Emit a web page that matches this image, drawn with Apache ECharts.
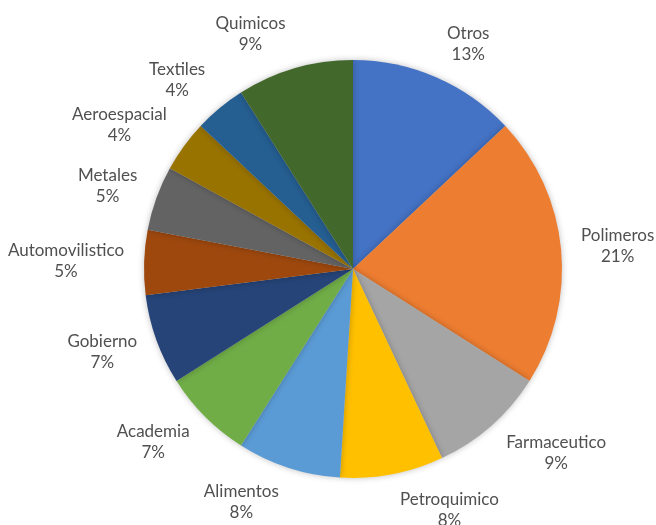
<!DOCTYPE html>
<html>
<head>
<meta charset="utf-8">
<script src="https://cdn.jsdelivr.net/npm/echarts@6/dist/echarts.min.js"></script>
<style>
  html, body { margin: 0; padding: 0; background: #ffffff; }
  #chart { width: 656px; height: 525px; }
</style>
</head>
<body>
<div id="chart"></div>
<script>
// Sectores (en orden horario desde las 12) y su participación en %
const sectores = ['Otros', 'Polimeros', 'Farmaceutico', 'Petroquimico', 'Alimentos', 'Academia',
  'Gobierno', 'Automovilistico', 'Metales', 'Aeroespacial', 'Textiles', 'Quimicos'];
const porcentajes = [13, 21, 9, 8, 8, 7, 7, 5, 5, 4, 4, 9];
const colores = ['#4472C4', '#ED7D31', '#A5A5A5', '#FFC000', '#5B9BD5', '#70AD47',
  '#264478', '#9E480E', '#636363', '#997300', '#255E91', '#43682B'];

const inicio = 90;   // primer sector arranca a las 12
const total = porcentajes.reduce((a, b) => a + b, 0);

// componente vertical (pantalla) de la dirección media de cada sector
const dirY = porcentajes.map((v, i) => {
  const acum = porcentajes.slice(0, i).reduce((a, b) => a + b, 0) + v / 2;
  const ang = (inicio - acum / total * 360) * Math.PI / 180;
  return -Math.sin(ang);
});

const chart = echarts.init(document.getElementById('chart'), null, { renderer: 'canvas' });

chart.setOption({
  animation: false,
  color: colores,
  series: [{
    type: 'pie',
    center: [353, 269],
    radius: 209,
    startAngle: inicio,
    clockwise: true,
    avoidLabelOverlap: false,
    data: sectores.map((s, i) => ({ name: s, value: porcentajes[i] })),
    itemStyle: {
      borderWidth: 0,
      shadowBlur: 6,
      shadowColor: 'rgba(0,0,0,0.25)'
    },
    label: {
      show: true,
      position: 'outside',
      formatter: p => p.name + '\n' + p.value + '%',
      fontFamily: 'Lato',
      fontSize: 17,
      lineHeight: 21,
      color: '#505050',
      distanceToLabelLine: 5
    },
    labelLine: { show: false, length: 15, length2: 0 },
    // centrar las líneas y alejar la caja del borde según la dirección del sector
    labelLayout: params => {
      const r = params.labelRect;
      return {
        x: r.x + r.width / 2,
        y: r.y + r.height / 2 + dirY[params.dataIndex] * r.height / 2,
        align: 'center',
        verticalAlign: 'middle'
      };
    }
  }]
});
</script>
</body>
</html>
